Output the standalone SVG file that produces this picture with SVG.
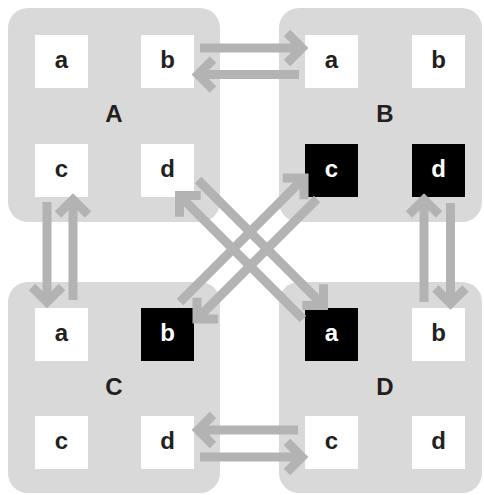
<svg xmlns="http://www.w3.org/2000/svg" width="484" height="495" viewBox="0 0 484 495">
  <style>
    .panel { fill: #d9d9d9; }
    .cell { fill: #ffffff; }
    .cell.on { fill: #000000; }
    .lbl { font-family: "Liberation Sans", Arial, Helvetica, sans-serif; font-weight: bold; font-size: 24px; text-anchor: middle; fill: #231f20; }
    .lbl.inv { fill: #ffffff; }
    .arrow { fill: none; stroke: #b3b3b3; stroke-width: 9; stroke-linecap: butt; marker-end: url(#head); }
  </style>
  <defs>
    <marker id="head" markerUnits="userSpaceOnUse" viewBox="0 0 40 40" markerWidth="40" markerHeight="40" refX="20" refY="20" orient="auto">
      <path d="M5,5 L20,20 L5,35" fill="none" stroke="#b3b3b3" stroke-width="9" stroke-linejoin="miter"/>
    </marker>
  </defs>

  <!-- Group A -->
  <g id="A">
    <rect class="panel" x="8" y="8" width="212" height="214" rx="20"/>
    <text class="lbl" x="114" y="122">A</text>
    <g id="A-a"><rect class="cell" x="35" y="35" width="53" height="53"/><text class="lbl" x="61.5" y="67.5">a</text></g>
    <g id="A-b"><rect class="cell" x="141" y="35" width="53" height="53"/><text class="lbl" x="167.5" y="67.5">b</text></g>
    <g id="A-c"><rect class="cell" x="35" y="144" width="53" height="53"/><text class="lbl" x="61.5" y="176.5">c</text></g>
    <g id="A-d"><rect class="cell" x="141" y="144" width="53" height="53"/><text class="lbl" x="167.5" y="176.5">d</text></g>
  </g>

  <!-- Group B -->
  <g id="B">
    <rect class="panel" x="279" y="8" width="203" height="214" rx="20"/>
    <text class="lbl" x="385" y="122">B</text>
    <g id="B-a"><rect class="cell" x="305" y="35" width="53" height="53"/><text class="lbl" x="331.5" y="67.5">a</text></g>
    <g id="B-b"><rect class="cell" x="412" y="35" width="53" height="53"/><text class="lbl" x="438.5" y="67.5">b</text></g>
    <g id="B-c"><rect class="cell on" x="305" y="144" width="53" height="53"/><text class="lbl inv" x="331.5" y="176.5">c</text></g>
    <g id="B-d"><rect class="cell on" x="412" y="144" width="53" height="53"/><text class="lbl inv" x="438.5" y="176.5">d</text></g>
  </g>

  <!-- Group C -->
  <g id="C">
    <rect class="panel" x="8" y="282" width="212" height="211" rx="20"/>
    <text class="lbl" x="114" y="395">C</text>
    <g id="C-a"><rect class="cell" x="35" y="308" width="53" height="53"/><text class="lbl" x="61.5" y="340.5">a</text></g>
    <g id="C-b"><rect class="cell on" x="141" y="308" width="53" height="53"/><text class="lbl inv" x="167.5" y="340.5">b</text></g>
    <g id="C-c"><rect class="cell" x="35" y="416" width="53" height="53"/><text class="lbl" x="61.5" y="448.5">c</text></g>
    <g id="C-d"><rect class="cell" x="141" y="416" width="53" height="53"/><text class="lbl" x="167.5" y="448.5">d</text></g>
  </g>

  <!-- Group D -->
  <g id="D">
    <rect class="panel" x="279" y="282" width="203" height="211" rx="20"/>
    <text class="lbl" x="385" y="395">D</text>
    <g id="D-a"><rect class="cell on" x="305" y="308" width="53" height="53"/><text class="lbl inv" x="331.5" y="340.5">a</text></g>
    <g id="D-b"><rect class="cell" x="412" y="308" width="53" height="53"/><text class="lbl" x="438.5" y="340.5">b</text></g>
    <g id="D-c"><rect class="cell" x="305" y="416" width="53" height="53"/><text class="lbl" x="331.5" y="448.5">c</text></g>
    <g id="D-d"><rect class="cell" x="412" y="416" width="53" height="53"/><text class="lbl" x="438.5" y="448.5">d</text></g>
  </g>

  <!-- Connectors -->
  <g id="connectors">
    <!-- A.b <-> B.a -->
    <path class="arrow" d="M200,48 L302,48"/>
    <path class="arrow" d="M299,74.5 L198,74.5"/>
    <!-- A.c <-> C.a -->
    <path class="arrow" d="M47,202 L47,302"/>
    <path class="arrow" d="M73,300 L73,199.5"/>
    <!-- B.d <-> D.b -->
    <path class="arrow" d="M424,302 L424,199.5"/>
    <path class="arrow" d="M450.5,203 L450.5,303.5"/>
    <!-- C.d <-> D.c -->
    <path class="arrow" d="M298,430 L198,430"/>
    <path class="arrow" d="M200,457 L302,457"/>
    <!-- A.d <-> D.a -->
    <path class="arrow" d="M198,180 L323.5,305.5"/>
    <path class="arrow" d="M303,319 L179.5,195.5"/>
    <!-- C.b <-> B.c -->
    <path class="arrow" d="M180,302 L304,178"/>
    <path class="arrow" d="M317,199 L197,319"/>
  </g>
</svg>
